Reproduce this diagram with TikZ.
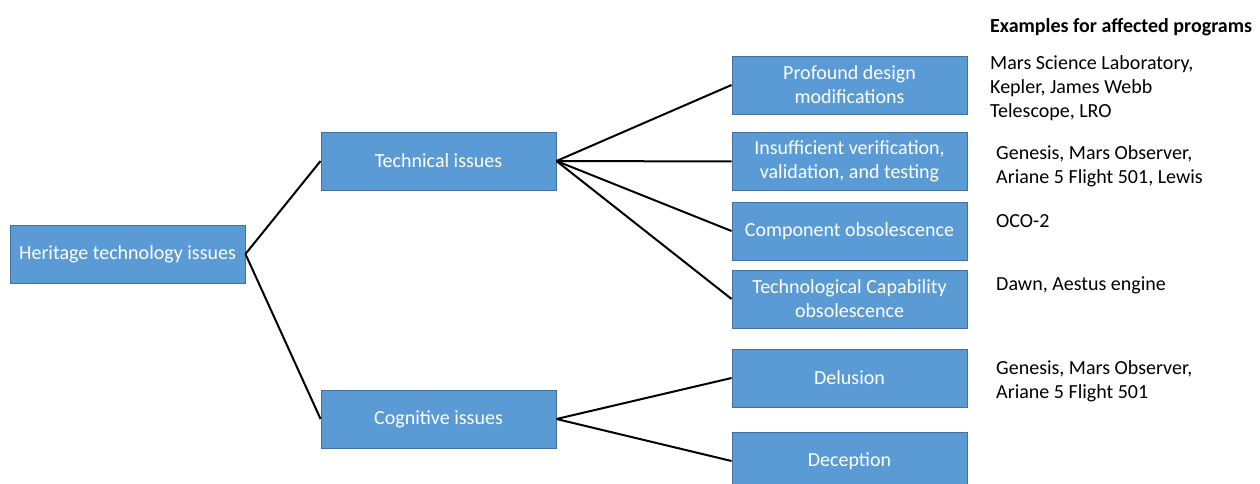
\documentclass[tikz,border=0pt]{standalone}
\usepackage{fontspec}
\setmainfont{Carlito}
\definecolor{boxfill}{HTML}{5B9BD5}
\definecolor{boxline}{HTML}{41719C}
\begin{document}
\begin{tikzpicture}[x=1pt,y=-1pt,
  issue/.style={rectangle, fill=boxfill, draw=boxline, line width=0.9pt,
    minimum width=235pt, minimum height=58pt, inner sep=0pt,
    text=white, align=center, font=\fontsize{20}{24}\selectfont},
  link/.style={line width=2pt, black},
  example/.style={anchor=north west, align=left, inner sep=0pt,
    font=\fontsize{20}{24}\selectfont}]
\useasboundingbox (0,0) rectangle (1260,484);
\begin{scope}
\clip (0,0) rectangle (1260,484);
% tree of issues
\node[issue] (root) at (127.5,254) {Heritage technology issues};
\node[issue] (tech) at (438.5,161) {Technical issues};
\node[issue] (cog)  at (438.5,419) {Cognitive issues};
\node[issue] (pdm)  at (849.5,85)  {Profound design\\modifications};
\node[issue] (ivv)  at (849.5,161.5) {Insufficient verification,\\validation, and testing};
\node[issue] (comp) at (849.5,231) {Component obsolescence};
\node[issue] (capa) at (849.5,299) {Technological Capability\\obsolescence};
\node[issue] (delu) at (849.5,378) {Delusion};
\node[issue] (dece) at (849.5,461) {Deception};
\end{scope}
% connectors
\draw[link] (root.east) -- (tech.west);
\draw[link] (root.east) -- (cog.west);
\draw[link] (tech.east) -- (pdm.west);
\draw[link] (tech.east) -- (ivv.west);
\draw[link] (tech.east) -- (comp.west);
\draw[link] (tech.east) -- (capa.west);
\draw[link] (cog.east) -- (delu.west);
\draw[link] (cog.east) -- (dece.west);
% example programs
\node[anchor=north west, inner sep=0pt, font=\fontsize{20}{24}\selectfont\bfseries] (head) at (990,18) {Examples for affected programs};
\node[example] (ex1) at (990,55) {Mars Science Laboratory,\\Kepler, James Webb\\Telescope, LRO};
\node[example] (ex2) at (996,145) {Genesis, Mars Observer,\\Ariane 5 Flight 501, Lewis};
\node[example] (ex3) at (996,214) {OCO-2};
\node[example] (ex4) at (996,277) {Dawn, Aestus engine};
\node[example] (ex5) at (996,360) {Genesis, Mars Observer,\\Ariane 5 Flight 501};
\end{tikzpicture}
\end{document}
